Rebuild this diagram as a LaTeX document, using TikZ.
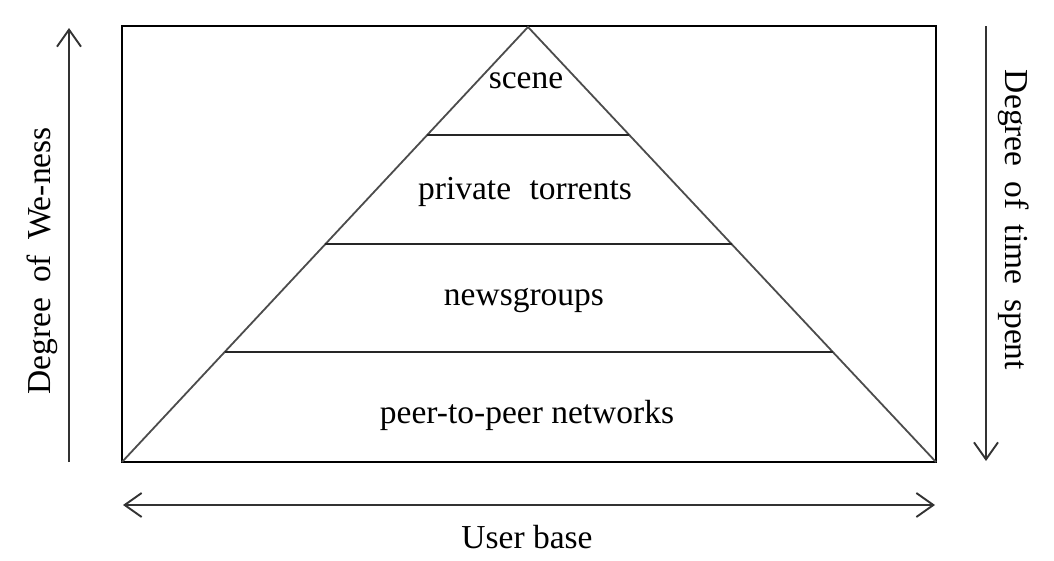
\documentclass[tikz,border=0pt]{standalone}
\usepackage{fontspec}
\setmainfont{Liberation Serif}
\usetikzlibrary{arrows.meta,calc}
\begin{document}
\begin{tikzpicture}[x=1pt,y=-1pt,
  frame/.style={line width=2.6pt,black},
  side/.style={line width=1.8pt,black!70},
  divider/.style={line width=2.4pt,black!85},
  axis/.style={line width=1.9pt,black!80,-{Straight Barb[length=17pt,width=24pt,line width=1.9pt]}},
  axis2/.style={line width=1.9pt,black!80,{Straight Barb[length=17pt,width=24pt,line width=1.9pt]}-{Straight Barb[length=17pt,width=24pt,line width=1.9pt]}},
  lbl/.style={font=\fontsize{33.5}{36}\selectfont,inner sep=0pt,anchor=base}]
\useasboundingbox (0,0) rectangle (1054,560);
% frame
\coordinate (tl) at (122,26);
\coordinate (br) at (936,462);
\coordinate (apex) at (528,27);
\coordinate (bl) at (122,462);
\coordinate (bR) at (936,462);
\draw[frame] (tl) rectangle (br);
\draw[side] (bl) -- (apex) -- (bR);
% dividers
\coordinate (d1l) at ($(apex)!0.2483!(bl)$);
\coordinate (d1r) at ($(apex)!0.2483!(bR)$);
\coordinate (d2l) at ($(apex)!0.4989!(bl)$);
\coordinate (d2r) at ($(apex)!0.4989!(bR)$);
\coordinate (d3l) at ($(apex)!0.7471!(bl)$);
\coordinate (d3r) at ($(apex)!0.7471!(bR)$);
\draw[divider] (d1l) -- (d1r);
\draw[divider] (d2l) -- (d2r);
\draw[divider] (d3l) -- (d3r);
% labels
\node[lbl] (scene) at (526,88) {scene};
\node[lbl] (priv) at (525,199) {private\hspace{0.55em}torrents};
\node[lbl] (news) at (524,305) {newsgroups};
\node[lbl] (p2p) at (527,423) {peer-to-peer networks};
% axes
\coordinate (la0) at (69,462);
\coordinate (la1) at (69,28);
\draw[axis] (la0) -- (la1);
\coordinate (ra0) at (986,26);
\coordinate (ra1) at (986,461);
\draw[axis] (ra0) -- (ra1);
\coordinate (ba0) at (123,505);
\coordinate (ba1) at (935,505);
\draw[axis2] (ba0) -- (ba1);
\node[lbl,rotate=90] (wen) at (50,261) {Degree\hspace{0.45em}of\hspace{0.45em}We-ness};
\node[lbl,rotate=-90] (time) at (1005,220) {Degree\hspace{0.45em}of\hspace{0.45em}time\hspace{0.45em}spent};
\node[lbl] (user) at (527,548) {User base};
\end{tikzpicture}
\end{document}
